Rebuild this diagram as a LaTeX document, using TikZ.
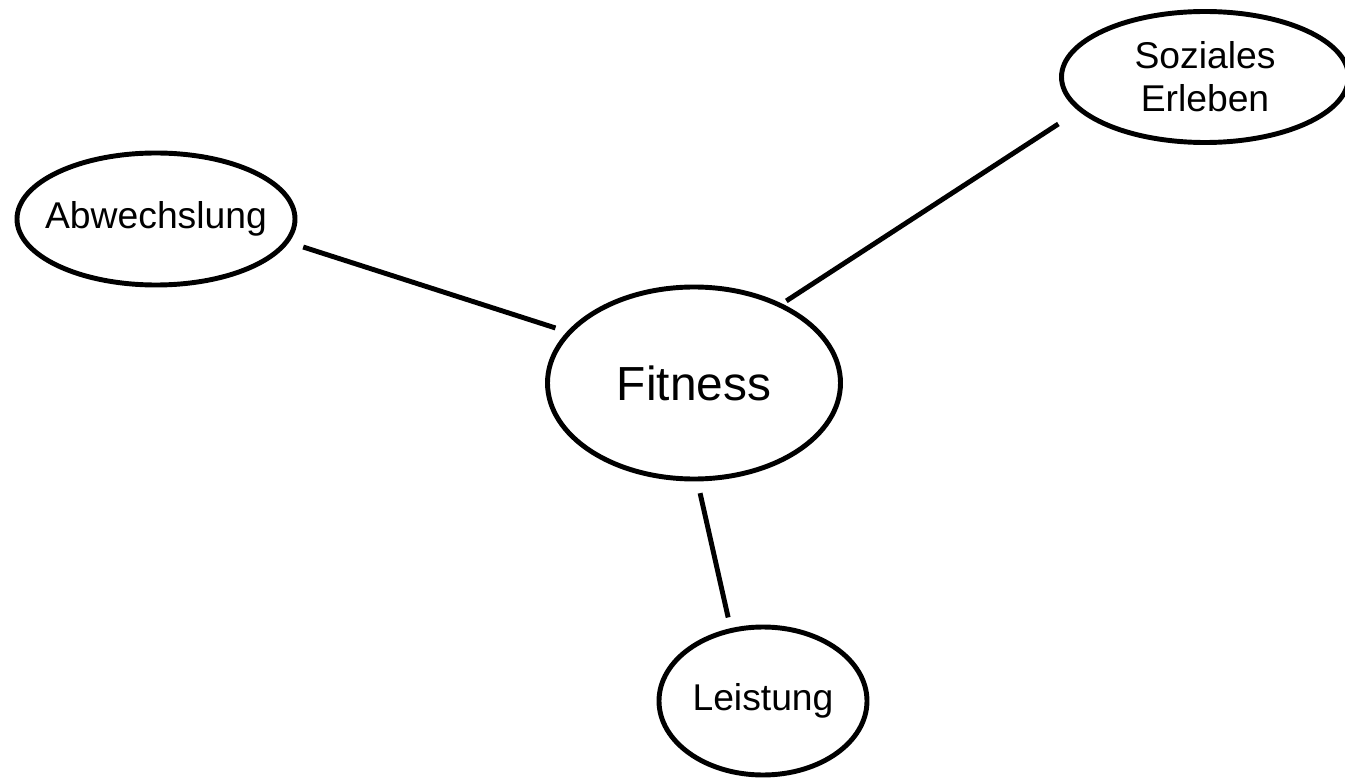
\documentclass[tikz,border=0pt]{standalone}
\usepackage{fontspec}
\setmainfont{Liberation Sans}
\usetikzlibrary{shapes.geometric}

\begin{document}
\begin{tikzpicture}
[x=0.01cm,y=-0.01cm,
  lineDecorate/.style={-,line width=1.4pt},%
  nodeDecorate/.style={shape=ellipse,inner ysep=0pt,inner xsep=-0.2cm,draw,line width=1.4pt,
    align=center,font=\fontsize{10.6}{12.3}\selectfont}]
\useasboundingbox (0,0) rectangle (1345,779);
%% nodes or vertices
\foreach \nodename/\x/\y/\w/\h/\nodetext in {fit/694/383/293/192/{\fontsize{13.6}{16}\selectfont Fitness},
  abw/156/219/278/132/Abwechslung, soz/1205/77/287/131/{Soziales\\Erleben},
  lei/763/701/208/148/Leistung}
{
  \node (\nodename) at (\x,\y) [nodeDecorate,minimum width=\w*0.01cm,minimum height=\h*0.01cm] {\nodetext};
}
%% edges or lines
\path
\foreach \startnode/\endnode/\gapA/\gapB in {abw.350/fit.158/15/12, soz.195/fit.42/24/5, fit.272/lei.114/12/11}
{
  (\startnode) edge[lineDecorate,shorten <=\gapA*0.01cm,shorten >=\gapB*0.01cm] node {} (\endnode)
};
\end{tikzpicture}
\end{document}
